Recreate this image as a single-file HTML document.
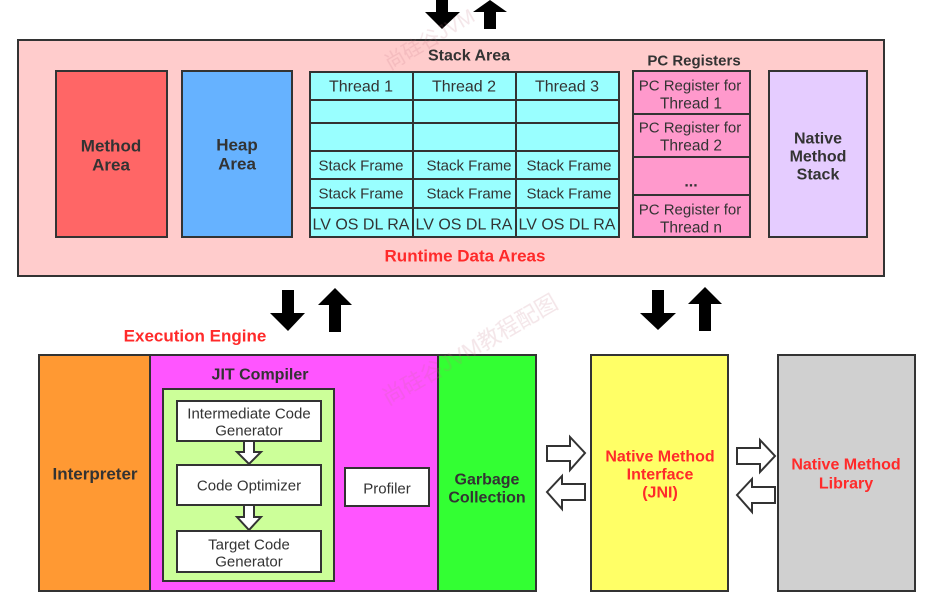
<!DOCTYPE html>
<html><head><meta charset="utf-8"><style>
html,body{margin:0;padding:0;background:#fff;width:932px;height:611px;overflow:hidden}
svg text{font-family:"Liberation Sans","Noto Sans CJK SC",sans-serif;text-anchor:middle;dominant-baseline:central}
.b{font-weight:bold}
</style></head><body>
<svg width="932" height="611" viewBox="0 0 932 611" xmlns="http://www.w3.org/2000/svg">
<g stroke="#333" stroke-width="2">
<polygon points="436,0 448,0 448,12 460,12 442,29 425,12 436,12" fill="#000" stroke="none"/>
<polygon points="490,0 507,12 496,12 496,29 484,29 484,12 473,12" fill="#000" stroke="none"/>
<rect x="18" y="40" width="866" height="236" fill="#ffcccc"/>
<rect x="56" y="71" width="111" height="166" fill="#ff6666"/>
<rect x="182" y="71" width="110" height="166" fill="#66b2ff"/>
<rect x="310" y="72" width="309" height="165" fill="#99ffff"/>
<line x1="413" y1="72" x2="413" y2="237"/><line x1="516" y1="72" x2="516" y2="237"/>
<line x1="310" y1="100" x2="619" y2="100"/><line x1="310" y1="123" x2="619" y2="123"/>
<line x1="310" y1="151" x2="619" y2="151"/><line x1="310" y1="179" x2="619" y2="179"/>
<line x1="310" y1="208" x2="619" y2="208"/>
<rect x="633" y="71" width="117" height="166" fill="#ff99cc"/>
<line x1="633" y1="114" x2="750" y2="114"/><line x1="633" y1="157" x2="750" y2="157"/>
<line x1="633" y1="195" x2="750" y2="195"/>
<rect x="769" y="71" width="98" height="166" fill="#e5ccff"/>
<rect x="39" y="355" width="111" height="236" fill="#ff9933"/>
<rect x="150" y="355" width="288" height="236" fill="#ff55ff"/>
<rect x="163" y="389" width="171" height="192" fill="#ccff99"/>
<rect x="177" y="401" width="144" height="40" fill="#fff"/>
<rect x="177" y="465" width="144" height="40" fill="#fff"/>
<rect x="177" y="531" width="144" height="41" fill="#fff"/>
<rect x="345" y="468" width="84" height="38" fill="#fff"/>
<polygon points="244,441 254,441 254,452 261,452 249,464 237,452 244,452" fill="#fff"/>
<polygon points="244,505 254,505 254,517 261,517 249,530 237,517 244,517" fill="#fff"/>
<rect x="438" y="355" width="98" height="236" fill="#33ff33"/>
<rect x="591" y="355" width="137" height="236" fill="#ffff66"/>
<rect x="778" y="355" width="137" height="236" fill="#d0d0d0"/>
<polygon points="547,446 570,446 570,437 585,453 570,470 570,461 547,461" fill="#fff"/>
<polygon points="585,484 562,484 562,476 547,492 562,509 562,500 585,500" fill="#fff"/>
<polygon points="737,448 760,448 760,440 775,456 760,472 760,464 737,464" fill="#fff"/>
<polygon points="775,487 752,487 752,479 737,495 752,512 752,503 775,503" fill="#fff"/>
</g>
<polygon points="282,290 294,290 294,313 305,313 288,331 270,313 282,313" fill="#000"/>
<polygon points="335,288 352,305 341,305 341,332 329,332 329,305 318,305" fill="#000"/>
<polygon points="652,290 664,290 664,313 676,313 658,330 640,313 652,313" fill="#000"/>
<polygon points="705,287 722,304 711,304 711,331 699,331 699,304 688,304" fill="#000"/>
<g fill="#c07080" opacity="0.18">
<text x="430" y="40" font-size="20" transform="rotate(-30 430 40)">尚硅谷JVM</text>
<text x="470" y="350" font-size="22" transform="rotate(-30 470 350)">尚硅谷JVM教程配图</text>
</g>
<g fill="#333" font-size="16">
<text class="b" x="111" y="146" font-size="17">Method</text><text class="b" x="111" y="165" font-size="17">Area</text>
<text class="b" x="237" y="145" font-size="17">Heap</text><text class="b" x="237" y="164" font-size="17">Area</text>
<text class="b" x="469" y="56" font-size="16">Stack Area</text>
<text class="b" x="694" y="61" font-size="15">PC Registers</text>
<text x="361" y="87">Thread 1</text><text x="464" y="87">Thread 2</text><text x="567" y="87">Thread 3</text>
<text x="361" y="166" font-size="15">Stack Frame</text><text x="469" y="166" font-size="15">Stack Frame</text><text x="569" y="166" font-size="15">Stack Frame</text>
<text x="361" y="194" font-size="15">Stack Frame</text><text x="469" y="194" font-size="15">Stack Frame</text><text x="569" y="194" font-size="15">Stack Frame</text>
<text x="361" y="225">LV OS DL RA</text><text x="464" y="225">LV OS DL RA</text><text x="567" y="225">LV OS DL RA</text>
<text x="690" y="86" font-size="15">PC Register for</text><text x="691" y="104" font-size="15.5">Thread 1</text>
<text x="690" y="128" font-size="15">PC Register for</text><text x="691" y="146" font-size="15.5">Thread 2</text>
<text class="b" x="691" y="182">...</text>
<text x="690" y="210" font-size="15">PC Register for</text><text x="691" y="228" font-size="15.5">Thread n</text>
<text class="b" x="818" y="139">Native</text><text class="b" x="818" y="157">Method</text><text class="b" x="818" y="175">Stack</text>
<text class="b" x="95" y="474" font-size="17">Interpreter</text>
<text class="b" x="260" y="375">JIT Compiler</text>
<text x="249" y="414" font-size="15">Intermediate Code</text><text x="249" y="431" font-size="15">Generator</text>
<text x="249" y="486" font-size="15">Code Optimizer</text>
<text x="249" y="545" font-size="15">Target Code</text><text x="249" y="562" font-size="15">Generator</text>
<text x="387" y="489" font-size="15">Profiler</text>
<text class="b" x="487" y="480">Garbage</text><text class="b" x="487" y="498">Collection</text>
</g>
<g fill="#ff2a2a" font-weight="bold" font-size="17">
<text x="465" y="256">Runtime Data Areas</text>
<text x="195" y="336">Execution Engine</text>
<text x="660" y="457" font-size="16">Native Method</text><text x="660" y="475" font-size="16">Interface</text><text x="660" y="493" font-size="16">(JNI)</text>
<text x="846" y="465" font-size="16">Native Method</text><text x="846" y="484" font-size="16">Library</text>
</g>
</svg>
</body></html>
